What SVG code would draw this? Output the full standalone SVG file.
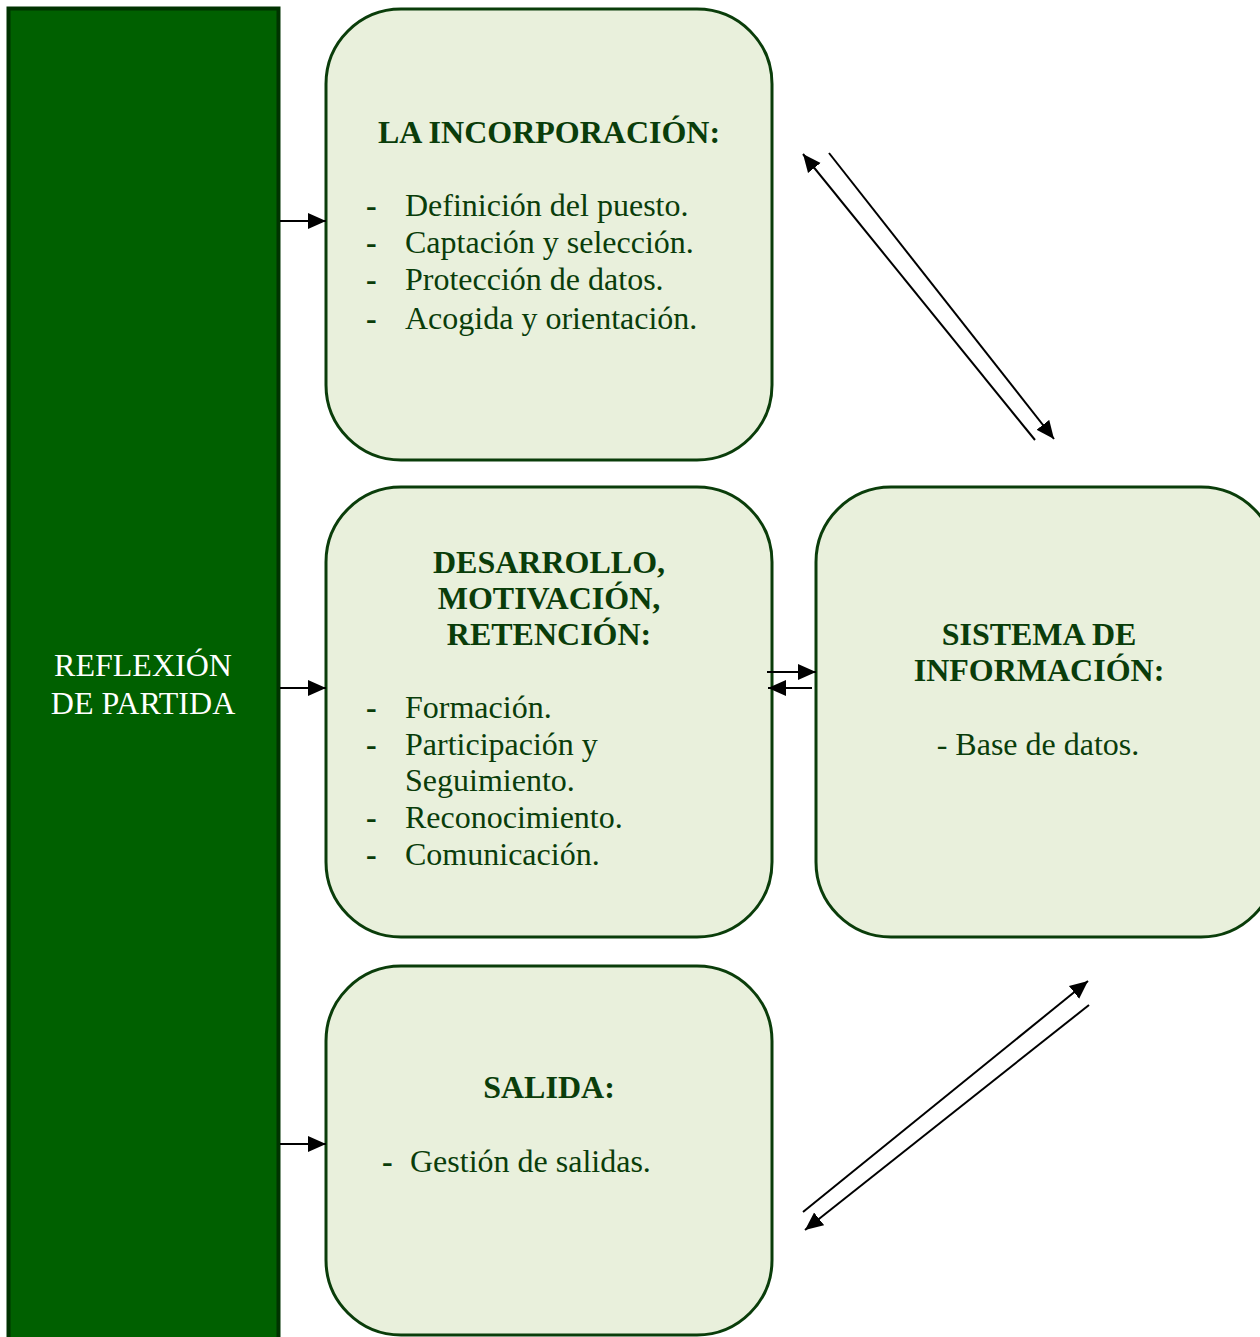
<svg xmlns="http://www.w3.org/2000/svg" width="1260" height="1337" viewBox="0 0 1260 1337">
<defs>
<style>
.box{fill:#e9f0dc;stroke:#0a3d0a;stroke-width:3}
.t{font-family:"Liberation Serif","Times New Roman",serif;font-size:32px;fill:#0a3d0a}
.d{font-weight:bold}
.b{font-weight:bold;text-anchor:middle}
.w{fill:#ffffff;text-anchor:middle}
.c{stroke:#000;stroke-width:2;fill:none}
</style>
<marker id="ah2" viewBox="0 0 10 10" refX="10" refY="5" markerWidth="18" markerHeight="18" markerUnits="userSpaceOnUse" orient="auto">
<path d="M0,0.5 L10,5 L0,9.5 z" fill="#000"/>
</marker>
</defs>
<rect width="1260" height="1337" fill="#fff"/>
<g id="reflexion">
<rect x="8.5" y="8.5" width="270" height="1340" fill="#006000" stroke="#003300" stroke-width="4"/>
<text class="t w" x="143" y="676">REFLEXIÓN</text>
<text class="t w" x="143" y="714">DE PARTIDA</text>
</g>
<g id="incorporacion">
<rect class="box" x="326" y="9" width="446" height="451" rx="75"/>
<text class="t b" x="549" y="143">LA INCORPORACIÓN:</text>
<text class="t d" x="366" y="216">-</text><text class="t" x="405" y="216">Definición del puesto.</text>
<text class="t d" x="366" y="253">-</text><text class="t" x="405" y="253">Captación y selección.</text>
<text class="t d" x="366" y="290">-</text><text class="t" x="405" y="290">Protección de datos.</text>
<text class="t d" x="366" y="329">-</text><text class="t" x="405" y="329">Acogida y orientación.</text>
</g>
<g id="desarrollo">
<rect class="box" x="326" y="487" width="446" height="450" rx="75"/>
<text class="t b" x="549" y="573">DESARROLLO,</text>
<text class="t b" x="549" y="609">MOTIVACIÓN,</text>
<text class="t b" x="549" y="645">RETENCIÓN:</text>
<text class="t d" x="366" y="718">-</text><text class="t" x="405" y="718">Formación.</text>
<text class="t d" x="366" y="755">-</text><text class="t" x="405" y="755">Participación y</text>
<text class="t" x="405" y="791">Seguimiento.</text>
<text class="t d" x="366" y="828">-</text><text class="t" x="405" y="828">Reconocimiento.</text>
<text class="t d" x="366" y="865">-</text><text class="t" x="405" y="865">Comunicación.</text>
</g>
<g id="salida">
<rect class="box" x="326" y="966" width="446" height="369" rx="75"/>
<text class="t b" x="549" y="1098">SALIDA:</text>
<text class="t d" x="382" y="1172">-</text><text class="t" x="410" y="1172">Gestión de salidas.</text>
</g>
<g id="sistema">
<rect class="box" x="816" y="487" width="460" height="450" rx="75"/>
<text class="t b" x="1039" y="645">SISTEMA DE</text>
<text class="t b" x="1039" y="681">INFORMACIÓN:</text>
<text class="t" x="1038" y="755" text-anchor="middle">- Base de datos.</text>
</g>
<g id="connectors">
<line class="c" x1="280" y1="221" x2="326" y2="221" marker-end="url(#ah2)"/>
<line class="c" x1="280" y1="688" x2="326" y2="688" marker-end="url(#ah2)"/>
<line class="c" x1="280" y1="1144" x2="326" y2="1144" marker-end="url(#ah2)"/>
<line class="c" x1="1035" y1="440" x2="803" y2="154" marker-end="url(#ah2)"/>
<line class="c" x1="829" y1="153" x2="1054" y2="439" marker-end="url(#ah2)"/>
<line class="c" x1="767" y1="672" x2="816" y2="672" marker-end="url(#ah2)"/>
<line class="c" x1="812" y1="688" x2="768" y2="688" marker-end="url(#ah2)"/>
<line class="c" x1="803" y1="1212" x2="1088" y2="981" marker-end="url(#ah2)"/>
<line class="c" x1="1089" y1="1005" x2="805" y2="1230" marker-end="url(#ah2)"/>
</g>
</svg>
